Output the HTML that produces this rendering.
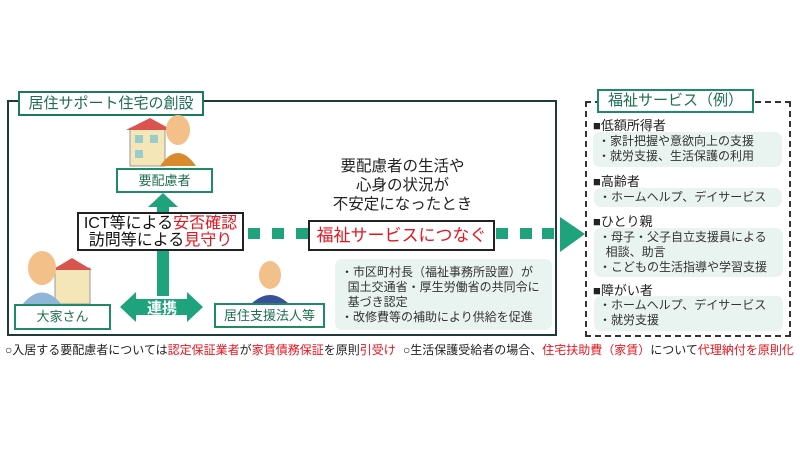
<!DOCTYPE html>
<html><head><meta charset="utf-8"><style>
body{margin:0;width:800px;height:450px;background:#fff;position:relative;overflow:hidden;font-family:"Liberation Sans","Noto Sans CJK JP",sans-serif;}
.a{position:absolute;box-sizing:border-box;}
.g{border:2px solid #1e8a66;background:#fff;color:#1e6f52;text-align:center;}
.r{color:#e8141e;}
.lb{font-size:13px;color:#222;}
.sb{background:#e9f3ef;border-radius:7px;font-size:12px;color:#333;line-height:15px;padding:2px 5px;}
</style></head><body>
<div class="a" style="left:7px;top:100px;width:550px;height:236px;border:2px solid #1f3a3a;"></div>
<div class="a g" style="left:18px;top:91px;width:186px;height:25px;font-size:15px;line-height:21px;border-color:#1e7a5c;">居住サポート住宅の創設</div>

<div class="a" style="left:585px;top:101px;width:206px;height:236px;border:2px dashed #333;"></div>
<div class="a g" style="left:597px;top:89px;width:157px;height:24px;font-size:15px;line-height:20px;">福祉サービス（例）</div>

<svg class="a" style="left:0;top:0" width="800" height="450">
<rect x="130" y="128" width="35" height="38" fill="#f5e6b8" stroke="#999"/><polygon points="126,130 150,118 172,130" fill="#d9534f"/>
<rect x="135" y="135" width="8" height="8" fill="#9cc"/><rect x="150" y="135" width="8" height="8" fill="#9cc"/><rect x="135" y="150" width="8" height="8" fill="#9cc"/>
<ellipse cx="178" cy="130" rx="12" ry="15" fill="#f4c08a"/><path d="M160 166 Q178 140 196 166Z" fill="#d98a2c"/>
<rect x="55" y="268" width="35" height="36" fill="#f5e6b8" stroke="#999"/><polygon points="52,270 72,258 92,270" fill="#d9534f"/>
<ellipse cx="42" cy="268" rx="14" ry="17" fill="#f4c08a"/><path d="M22 305 Q42 280 62 305Z" fill="#8fb5d8"/>
<ellipse cx="270" cy="275" rx="11" ry="14" fill="#f4c08a"/><path d="M250 305 Q270 285 290 305Z" fill="#3b4f9a"/>
<rect x="157" y="200" width="12" height="96" fill="#1fa37d"/>
<polygon points="148,207 163,193 178,207" fill="#1fa37d"/>
<polygon points="120,307 136,292 136,299 187,299 187,292 203,307 187,322 187,315 136,315 136,322" fill="#1fa37d"/>
<g fill="#1fa37d">
<rect x="248" y="228" width="12" height="11"/><rect x="272" y="228" width="12" height="11"/><rect x="296" y="228" width="12" height="11"/>
<rect x="496" y="228" width="12" height="11"/><rect x="520" y="228" width="12" height="11"/><rect x="542" y="228" width="12" height="11"/>
<polygon points="560,217 585,234 560,252"/></g>
</svg>
<div class="a" style="left:138px;top:297px;width:48px;text-align:center;color:#fff;font-weight:bold;font-size:15px;">連携</div>

<div class="a g" style="left:116px;top:168px;width:97px;height:25px;font-size:13px;line-height:21px;">要配慮者</div>
<div class="a g" style="left:14px;top:304px;width:97px;height:26px;font-size:13px;line-height:22px;">大家さん</div>
<div class="a g" style="left:214px;top:303px;width:111px;height:25px;font-size:13px;line-height:21px;">居住支援法人等</div>
<div class="a" style="left:77px;top:212px;width:167px;height:39px;border:2px solid #222;background:#fff;text-align:center;font-size:16px;line-height:17px;color:#111;padding-top:1px;white-space:nowrap;">ICT等による<span class="r">安否確認</span><br>訪問等による<span class="r">見守り</span></div>

<div class="a" style="left:315px;top:157px;width:175px;text-align:center;font-size:15.5px;line-height:19px;color:#222;">要配慮者の生活や<br>心身の状況が<br>不安定になったとき</div>
<div class="a" style="left:308px;top:220px;width:187px;height:31px;border:2px solid #222;background:#fff;text-align:center;font-size:17px;line-height:27px;color:#e8141e;">福祉サービスにつなぐ</div>
<div class="a sb" style="left:335px;top:259px;width:217px;height:71px;padding:6px 6px;line-height:15px;">・市区町村長（福祉事務所設置）が<br>&nbsp;&nbsp;国土交通省・厚生労働省の共同令に<br>&nbsp;&nbsp;基づき認定<br>・改修費等の補助により供給を促進</div>

<div class="a lb" style="left:593px;top:115px;">■低額所得者</div>
<div class="a sb" style="left:593px;top:132px;width:189px;height:35px;">・家計把握や意欲向上の支援<br>・就労支援、生活保護の利用</div>
<div class="a lb" style="left:593px;top:171px;">■高齢者</div>
<div class="a sb" style="left:594px;top:188px;width:188px;height:19px;">・ホームヘルプ、デイサービス</div>
<div class="a lb" style="left:593px;top:211px;">■ひとり親</div>
<div class="a sb" style="left:594px;top:228px;width:189px;height:49px;">・母子・父子自立支援員による<br>&nbsp;&nbsp;相談、助言<br>・こどもの生活指導や学習支援</div>
<div class="a lb" style="left:593px;top:280px;">■障がい者</div>
<div class="a sb" style="left:594px;top:296px;width:189px;height:35px;">・ホームヘルプ、デイサービス<br>・就労支援</div>

<div class="a" style="left:5px;top:341px;font-size:12px;color:#222;white-space:nowrap;">○入居する要配慮者については<span class="r">認定保証業者</span>が<span class="r">家賃債務保証</span>を原則<span class="r">引受け</span></div>
<div class="a" style="left:403px;top:341px;font-size:12px;color:#222;white-space:nowrap;">○生活保護受給者の場合、<span class="r">住宅扶助費（家賃）</span>について<span class="r">代理納付を原則化</span></div>
</body></html>
